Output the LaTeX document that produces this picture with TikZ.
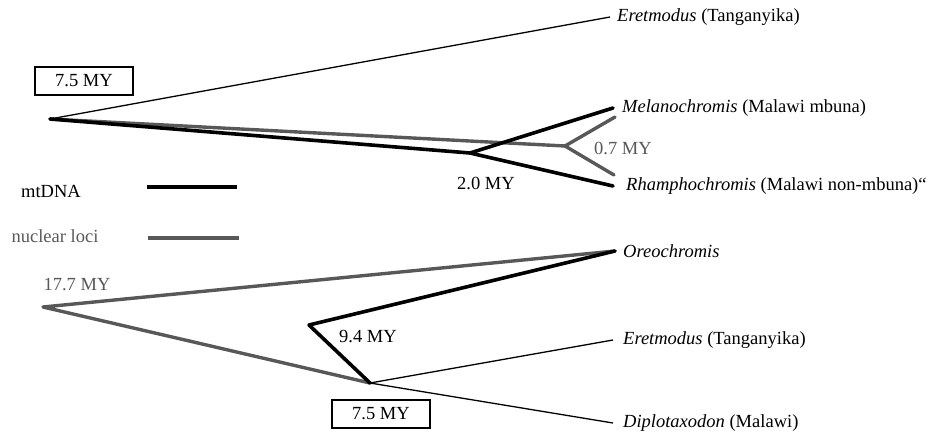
\documentclass[tikz,border=0pt]{standalone}
\usepackage{fontspec}
\setmainfont{Liberation Serif}
\usetikzlibrary{positioning}
\definecolor{nucgray}{RGB}{88,88,88}

\begin{document}
\begin{tikzpicture}[
  x=1pt, y=-1pt,
  font=\fontsize{18.5}{22}\selectfont,
  node distance=8pt,
  taxon/.style={inner sep=0pt},
  age/.style={inner sep=1pt},
  agebox/.style={draw, line width=1.4pt, minimum width=98pt, minimum height=28pt, inner sep=0pt},
  mito/.style={line width=3.6pt, line join=round, line cap=round},
  nuc/.style={line width=3.4pt, draw=nucgray, line join=round, line cap=round},
  branch/.style={line width=1.3pt, line join=round}
]
\useasboundingbox (0,0) rectangle (934,439);

% top tree
\coordinate (rootA) at (50,119);
\coordinate (tEreA) at (610,17);
\coordinate (mSplit) at (470,153);
\coordinate (tMelM) at (613,108);
\coordinate (tRhaM) at (613,186);
\coordinate (nSplit) at (565,146);
\coordinate (tMelN) at (615,117);
\coordinate (tRhaN) at (614,175);

\node[taxon, right=7pt of tEreA] (ereA) {\textit{Eretmodus} (Tanganyika)};
\node[taxon, right=9pt of tMelM] (mel) {\textit{Melanochromis} (Malawi mbuna)};
\node[taxon, right=13pt of tRhaM] (rha) {\textit{Rhamphochromis} (Malawi non-mbuna)``};
\node[agebox] (boxA) at (84,81) {7.5 MY};
\node[age] (ageMit) at (486,183) {2.0 MY};
\node[age, text=nucgray] (ageNuc) at (623,148) {0.7 MY};

\draw[branch] (rootA) -- (tEreA);
\draw[nuc] (rootA) -- (nSplit) -- (tMelN);
\draw[nuc] (nSplit) -- (tRhaN);
\draw[mito] (rootA) -- (mSplit) -- (tMelM);
\draw[mito] (mSplit) -- (tRhaM);

% legend
\node[age] (mitLab) at (51,191) {mtDNA};
\node[age, text=nucgray] (nucLab) at (55,236) {nuclear loci};
\coordinate (mitL) at (147,187);
\coordinate (mitR) at (237,187);
\coordinate (nucL) at (148,238);
\coordinate (nucR) at (239,238);
\draw[line width=4pt] (mitL) -- (mitR);
\draw[nucgray, line width=3.4pt] (nucL) -- (nucR);

% bottom tree
\coordinate (rootB) at (43,307);
\coordinate (tOre) at (615,251);
\coordinate (nB) at (370,383);
\coordinate (mB) at (309,325);
\coordinate (tEreB) at (613,340);
\coordinate (tDip) at (613,423);

\node[taxon, right=of tOre] (ore) {\textit{Oreochromis}};
\node[taxon, right=10pt of tEreB] (ereB) {\textit{Eretmodus} (Tanganyika)};
\node[taxon, right=10pt of tDip] (dip) {\textit{Diplotaxodon} (Malawi)};
\node[age, text=nucgray] (ageRoot) at (77,285) {17.7 MY};
\node[age] (ageB) at (368,337) {9.4 MY};
\node[agebox] (boxB) at (381,414) {7.5 MY};

\draw[nuc] (tOre) -- (rootB) -- (nB);
\draw[mito] (tOre) -- (mB) -- (nB);
\draw[branch] (tEreB) -- (nB) -- (tDip);
\end{tikzpicture}
\end{document}
